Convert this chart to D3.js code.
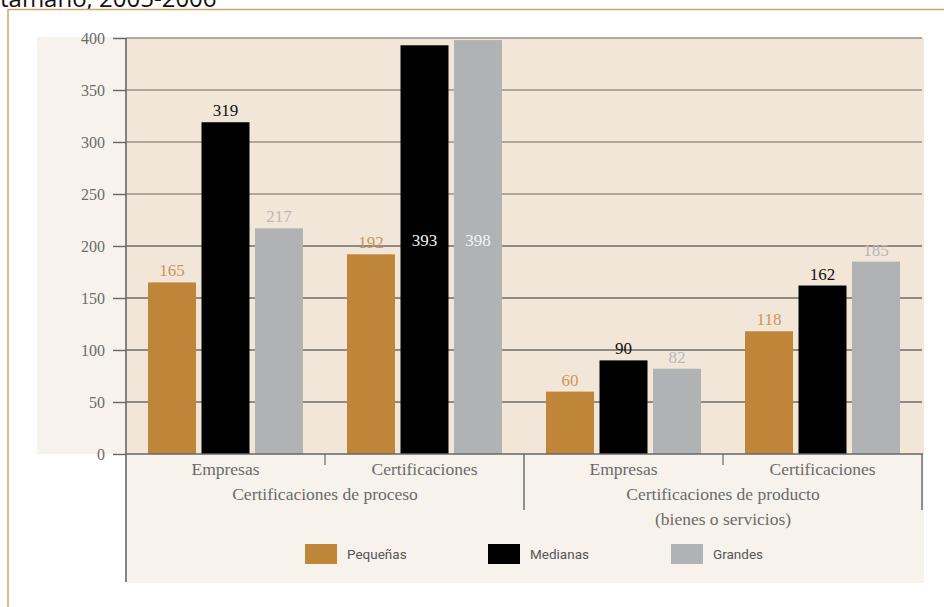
<!DOCTYPE html>
<html>
<head>
<meta charset="utf-8">
<script src="https://cdn.jsdelivr.net/npm/d3@7/dist/d3.min.js"></script>
<style>
  html, body { margin: 0; padding: 0; background: #ffffff; }
  svg { display: block; }
</style>
</head>
<body>
<div id="chart"></div>
<script>
// ---- data ----
const categories = ["Empresas", "Certificaciones", "Empresas ", "Certificaciones "];
const categoryLabels = ["Empresas", "Certificaciones", "Empresas", "Certificaciones"];
const groupLabels = [["Certificaciones de proceso"], ["Certificaciones de producto", "(bienes o servicios)"]];
const seriesNames = ["Pequeñas", "Medianas", "Grandes"];
const pequenas = [165, 192, 60, 118];
const medianas = [319, 393, 90, 162];
const grandes = [217, 398, 82, 185];
const yTicks = [0, 50, 100, 150, 200, 250, 300, 350, 400];
const titleText = "tamaño, 2005-2006";

const seriesValues = [pequenas, medianas, grandes];
const barColors = ["#bf8639", "#000000", "#b1b2b4"];
const labelColors = ["#c9975b", "#111111", "#b8b8b8"];

const W = 944, H = 607;
const svg = d3.select("#chart").append("svg").attr("width", W).attr("height", H);

const plotL = 126, plotR = 924, plotT = 38, plotB = 454;
const serif = "'Liberation Serif', 'Times New Roman', serif";

// title (cut off at top, as in the reference)
svg.append("text").attr("x", 0).attr("y", 7)
  .attr("font-family", "'Open Sans', sans-serif").attr("font-size", 24)
  .attr("fill", "#111").text(titleText);

// frame
svg.append("path").attr("d", `M8,${H} L8,9.5 L${W},9.5`)
  .attr("fill", "none").attr("stroke", "#d2a56d").attr("stroke-width", 1.5);

// backgrounds
svg.append("rect").attr("x", 37).attr("y", 37).attr("width", plotL - 37).attr("height", plotB - 37).attr("fill", "#f8f2ec");
svg.append("rect").attr("x", plotL).attr("y", plotT).attr("width", plotR - plotL).attr("height", plotB - plotT).attr("fill", "#f2e6d9");
svg.append("rect").attr("x", plotL).attr("y", plotB).attr("width", plotR - plotL).attr("height", 583 - plotB).attr("fill", "#f8f2ec");

// scales
const y = d3.scaleLinear().domain([0, 400]).range([plotB, plotT]);
const x0 = d3.scaleBand().domain(categories).range([plotL, 922]).padding(0);
const x1 = d3.scaleBand().domain(seriesNames).range([22, 177]).paddingInner(0.103).paddingOuter(0);

// gridlines
svg.append("g").selectAll("line").data(yTicks.filter(d => d > 0)).join("line")
  .attr("x1", plotL).attr("x2", 922)
  .attr("y1", d => y(d)).attr("y2", d => y(d))
  .attr("stroke", d => d >= 250 ? "#99928a" : "#6f6b67").attr("stroke-width", 1.4);

// y axis
const yAxis = d3.axisLeft(y).tickValues(yTicks).tickSize(13).tickPadding(8).tickSizeOuter(0);
const gy = svg.append("g").attr("transform", `translate(${plotL},0)`).call(yAxis);
gy.select(".domain").remove();
gy.selectAll(".tick line").attr("stroke", "#666").attr("stroke-width", 1.4);
gy.selectAll(".tick text").attr("font-family", serif).attr("font-size", 16).attr("fill", "#6b6b6b");
svg.append("line").attr("x1", plotL).attr("x2", plotL).attr("y1", plotT).attr("y2", 582)
  .attr("stroke", "#666").attr("stroke-width", 1.6);

// bars
const gBars = svg.append("g");
categories.forEach((c, ci) => {
  seriesNames.forEach((s, si) => {
    const v = seriesValues[si][ci];
    const bx = x0(c) + x1(s);
    gBars.append("rect").attr("x", bx).attr("y", y(v))
      .attr("width", x1.bandwidth()).attr("height", y(0) - y(v))
      .attr("fill", barColors[si]);
    const inside = y(v) - 22 < plotT;
    gBars.append("text")
      .attr("x", bx + x1.bandwidth() / 2)
      .attr("y", inside ? y(200) : y(v) - 6)
      .attr("text-anchor", "middle")
      .attr("font-family", serif).attr("font-size", 17)
      .attr("fill", inside ? "#f2f2f2" : labelColors[si])
      .text(v);
  });
});

// x axis line
svg.append("line").attr("x1", plotL).attr("x2", 923).attr("y1", plotB).attr("y2", plotB)
  .attr("stroke", "#666").attr("stroke-width", 1.6);

// separators
const sepColor = "#666";
[1, 3].forEach(i => {
  const xx = x0(categories[i]);
  svg.append("line").attr("x1", xx).attr("x2", xx).attr("y1", plotB).attr("y2", plotB + 11)
    .attr("stroke", sepColor).attr("stroke-width", 1.2);
});
[x0(categories[2]), 922].forEach(xx => {
  svg.append("line").attr("x1", xx).attr("x2", xx).attr("y1", plotB).attr("y2", 510)
    .attr("stroke", sepColor).attr("stroke-width", 1.4);
});

// category labels
categories.forEach((c, ci) => {
  svg.append("text").attr("x", x0(c) + x0.bandwidth() / 2).attr("y", 475)
    .attr("text-anchor", "middle")
    .attr("font-family", serif).attr("font-size", 17.5).attr("fill", "#6a6a6a")
    .text(categoryLabels[ci]);
});
// group labels
groupLabels.forEach((lines, gi) => {
  const cx = x0(categories[gi * 2 + 1]);
  lines.forEach((t, li) => {
    svg.append("text").attr("x", cx).attr("y", 500 + li * 25)
      .attr("text-anchor", "middle")
      .attr("font-family", serif).attr("font-size", 17.5).attr("fill", "#6a6a6a")
      .text(t);
  });
});

// legend
const lg = svg.append("g");
seriesNames.forEach((s, si) => {
  const lx = 305 + si * 183;
  lg.append("rect").attr("x", lx).attr("y", 544).attr("width", 32).attr("height", 20).attr("fill", barColors[si]);
  lg.append("text").attr("x", lx + 42).attr("y", 559)
    .attr("font-family", "Roboto, sans-serif").attr("font-size", 13.5).attr("fill", "#555")
    .text(s);
});
</script>
</body>
</html>
